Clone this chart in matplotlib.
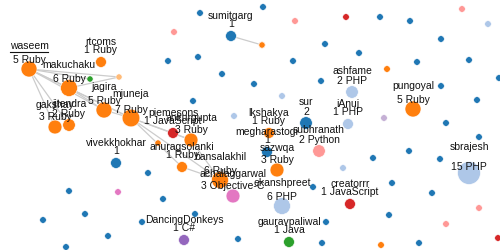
import numpy as np
import matplotlib.pyplot as plt
from matplotlib.patches import Circle

plt.rcParams['font.family'] = ['Liberation Sans', 'DejaVu Sans']

# users with a label (plus a few unlabeled ones that have links)
users = ["waseem", "makuchaku", "rtcoms", "jagira", "mjuneja", "gakshay", "jitendra",
         "piemesons", "ankurgupta", "anuragsolanki", "bansalakhil", "achalaggarwal",
         "vivekkhokhar", "sumitgarg", "lkshakya", "megharastogi", "sazwqa", "sur",
         "subhranath", "iAnuj", "ashfame", "pungoyal", "sbrajesh", "creatorrr",
         "ekanshpreet", "gauravpaliwal", "DancingDonkeys",
         "", "", "", ""]
repos = [5, 6, 1, 5, 7, 3, 2,
         1, 3, 1, 6, 3,
         1, 1, 1, 1, 3, 2,
         2, 1, 2, 5, 15, 1,
         6, 1, 1,
         0, 0, 0, 0]
langs = ["Ruby", "Ruby", "Ruby", "Ruby", "Ruby", "Ruby", "Ruby",
         "JavaScript", "Ruby", "Ruby", "Ruby", "Objective-C",
         "", "", "Ruby", "", "Ruby", "",
         "Python", "PHP", "PHP", "Ruby", "PHP", "JavaScript",
         "PHP", "Java", "C#",
         "Java", "Shell", "Ruby", "Ruby"]
node_x = [29, 69, 101, 104, 131, 55, 69,
          173, 191, 182, 220, 233,
          116, 231, 269, 267, 277, 306,
          319, 348, 352, 413, 469, 350,
          282, 289, 184,
          90, 119, 262, 158]
node_y = [69, 88, 62, 110, 118, 127, 125,
          133, 140, 167, 180, 196,
          163, 36, 133, 152, 170, 123,
          151, 124, 92, 109, 173, 204,
          206, 242, 240,
          79, 77, 45, 143]

# follow links (indices into the lists above)
links = [(0, 1), (0, 27), (0, 28), (0, 3), (0, 4), (0, 5), (0, 6),
         (1, 28), (1, 3), (1, 4), (3, 4),
         (4, 7), (4, 8), (4, 9), (4, 10),
         (7, 8), (8, 10), (9, 10), (10, 11),
         (13, 29)]

# users without followers in the graph
other_langs = [""] * 41 + ["Python"] * 5 + ["PHP"] * 4 + ["JavaScript"] * 2 + \
              ["Ruby"] * 3 + ["Perl", "Objective-C"]
other_x = [200, 263, 325, 168, 198, 293, 222, 254, 321, 193,
           380, 410, 441, 359, 417, 469, 441, 499, 477, 446,
           479, 409, 373, 440, 392, 432, 389, 326, 419, 322,
           313, 163, 195, 238, 148, 69, 43, 85, 142, 108, 66,
           295, 174, 462, 479, 446,
           282, 234, 488, 343,
           346, 498,
           387, 381, 262 + 0,
           384, 118]
other_y = [13, 7, 44, 61, 57, 61, 74, 84, 81, 101,
           17, 21, 39, 53, 62, 60, 86, 78, 100, 123,
           137, 151, 158, 159, 183, 193, 215, 222, 243, 243,
           187, 199, 214, 239, 173, 191, 220, 214, 222, 236, 247,
           21, 32, 9, 208, 224,
           96, 116, 24, 168,
           17, 238,
           69, 245, 45,
           118, 192]

colors = {"": "#1f77b4", "Ruby": "#ff7f0e", "PHP": "#aec7e8", "Python": "#ff9896",
          "JavaScript": "#d62728", "Objective-C": "#e377c2", "C#": "#9467bd",
          "Java": "#2ca02c", "Shell": "#ffbb78", "Perl": "#c5b0d5"}


def radius(n):
    return 3.3 + 2.1 * np.sqrt(n)


fig = plt.figure(figsize=(5, 2.5), dpi=100)
ax = fig.add_axes([0, 0, 1, 1])
ax.set_xlim(0, 500)
ax.set_ylim(250, 0)
ax.axis("off")

for a, b in links:
    ax.plot([node_x[a], node_x[b]], [node_y[a], node_y[b]], color="#cccccc", lw=0.9, zorder=1)

for lang, x, y in zip(other_langs, other_x, other_y):
    ax.add_patch(Circle((x, y), radius(0), fc=colors[lang], ec="#ffffff", lw=0.4, zorder=2))

for i in range(len(users)):
    r = radius(repos[i]) if users[i] else 3.1
    ax.add_patch(Circle((node_x[i], node_y[i]), r, fc=colors[langs[i]], ec="#ffffff", lw=0.4, zorder=2))

for i in range(len(users)):
    if not users[i]:
        continue
    r = radius(repos[i])
    x, y = node_x[i], node_y[i]
    name = ax.text(x, y - r - 15, users[i], ha="center", va="center", fontsize=7.5, color="#111111", zorder=3)
    ax.text(x, y - 17 + r, (str(repos[i]) + " " + langs[i]).strip(), ha="center", va="center",
            fontsize=7.5, color="#111111", zorder=3)
    if i == 0:
        fig.canvas.draw()
        bb = name.get_window_extent().transformed(ax.transData.inverted())
        ax.plot([bb.x0, bb.x1], [bb.y0 + 0.5, bb.y0 + 0.5], color="#111111", lw=0.8, zorder=3)

fig.savefig("out.png", dpi=100)
